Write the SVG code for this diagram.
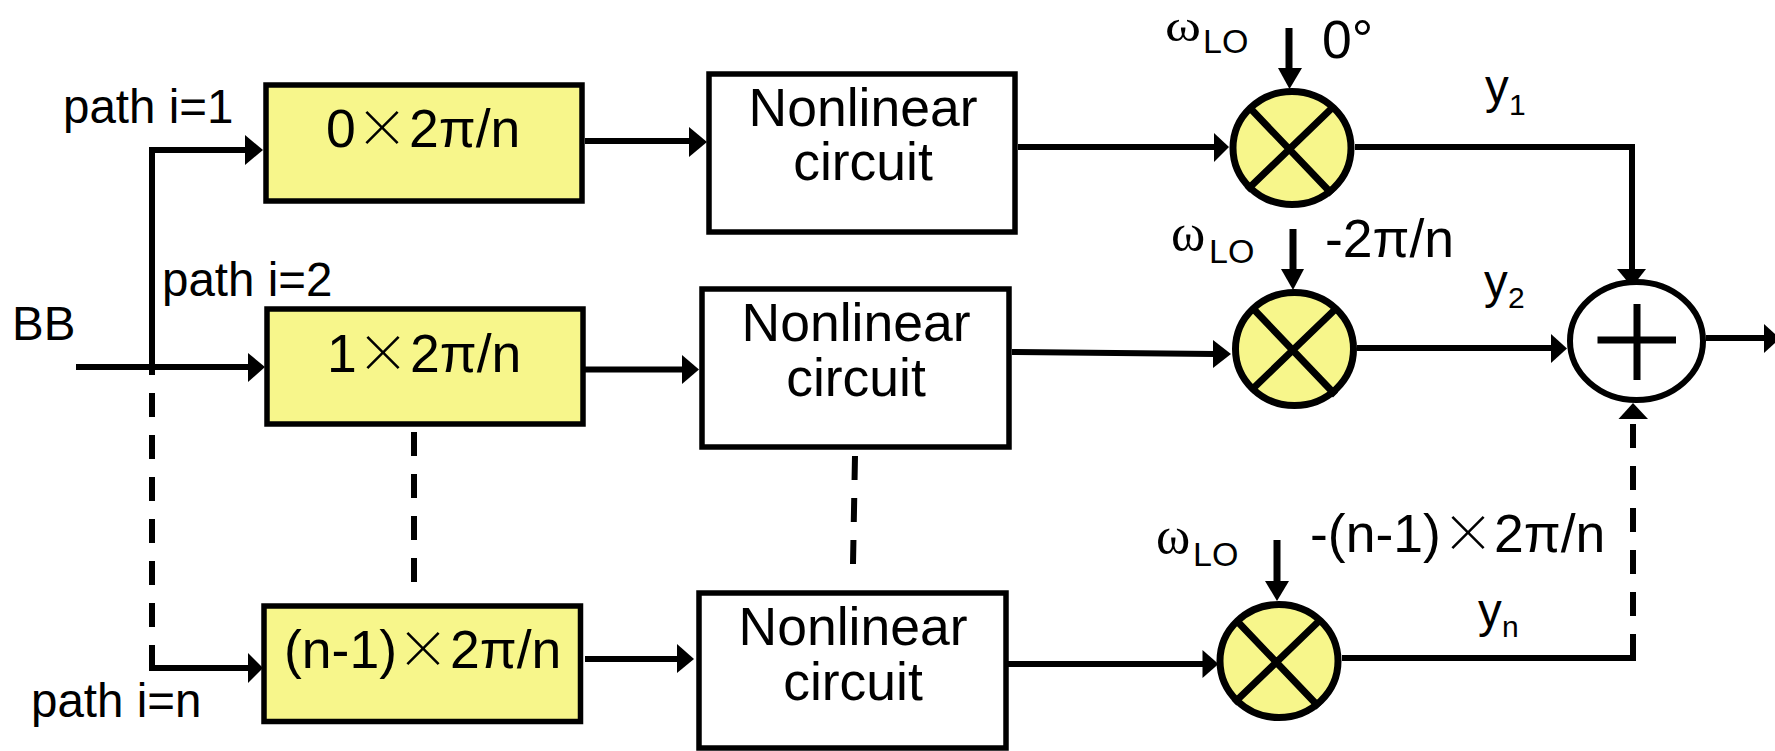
<svg xmlns="http://www.w3.org/2000/svg" width="1775" height="751" viewBox="0 0 1775 751">
<style>
text{font-family:"Liberation Sans",Arial,sans-serif;fill:#000;font-size:53.500px}
.c{text-anchor:middle}
.lb{font-size:47.500px}
.sub{font-size:34px}
.sy{font-size:30px}
.om{font-family:"Liberation Serif","Times New Roman",serif;font-size:52px}
.t{font-family:"Noto Sans CJK SC",sans-serif;font-size:52px;font-weight:300}
.box{fill:#fff;stroke:#000;stroke-width:5.500}
.y{fill:#f7f68b}
.m{fill:#f7f68b;stroke:#000;stroke-width:7}
.x{stroke:#000;stroke-width:7;fill:none}
.ln{stroke:#000;stroke-width:6;fill:none}
.th{stroke-width:7}
.d{stroke-dasharray:24 18}
.ar{fill:#000}
</style>
<g id="connectors">
<path class="ln" d="M76 367H250"/><polygon class="ar" points="265,367 248,353 248,382"/>
<path class="ln" d="M152 375V150H247"/><polygon class="ar" points="263,150 245,135 245,165"/>
<path class="ln d" d="M152 393V668"/><path class="ln" d="M152 645V668H250"/><polygon class="ar" points="263,668 248,653 248,683"/>
<path class="ln" d="M585 141H690"/><polygon class="ar" points="707,142 689,127 689,157"/>
<path class="ln" d="M585 369.500H684"/><polygon class="ar" points="699,369.500 682,355 682,384"/>
<path class="ln" d="M585 659H679"/><polygon class="ar" points="694,659 677,644 677,673"/>
<path class="ln" d="M1018 147H1216"/><polygon class="ar" points="1229,147 1214,133 1214,162"/>
<path class="ln" d="M1012 352L1215 354"/><polygon class="ar" points="1231,354 1213,340 1213,368"/>
<path class="ln" d="M1008 664H1204"/><polygon class="ar" points="1218.500,664 1202.500,650 1202.500,678"/>
<path class="ln th" d="M1289 28V70"/><polygon class="ar" points="1289.500,89 1278,68 1302,68"/>
<path class="ln th" d="M1293 229V271"/><polygon class="ar" points="1293,290 1281,269 1304,269"/>
<path class="ln th" d="M1277 540V583"/><polygon class="ar" points="1277,601 1265,581 1289,581"/>
<path class="ln" d="M1355 147H1632V271"/><polygon class="ar" points="1632,287 1617,269 1646,269"/>
<path class="ln" d="M1357 348H1553"/><polygon class="ar" points="1567,348.500 1551,334 1551,363"/>
<path class="ln" d="M1342 658H1636"/>
<path class="ln d" d="M1633 658V424"/><polygon class="ar" points="1633,403 1618.500,419 1648,419"/>
<path class="ln" d="M1706 338H1766"/><polygon class="ar" points="1780,338.500 1764,324 1764,353"/>
<path class="ln d" d="M414 432V583"/>
<path class="ln d" d="M855 456L853 564"/>
</g>
<g id="p1"><rect class="box y" x="266" y="85" width="316" height="116"/><text x="326" y="147">0</text><text class="t" x="356" y="147">×</text><text x="409" y="147">2π/n</text></g>
<g id="p2"><rect class="box y" x="267" y="309" width="316" height="115"/><text x="327" y="372">1</text><text class="t" x="357" y="372">×</text><text x="410" y="372">2π/n</text></g>
<g id="pn"><rect class="box y" x="264" y="606" width="316.500" height="115.500"/><text x="284" y="668">(n-1)</text><text class="t" x="397" y="668">×</text><text x="450" y="668">2π/n</text></g>
<g id="nl1"><rect class="box" x="709" y="74" width="306" height="158"/><text class="c" x="863" y="126">Nonlinear</text><text class="c" x="863" y="180">circuit</text></g>
<g id="nl2"><rect class="box" x="702" y="289" width="307" height="158"/><text class="c" x="856" y="341">Nonlinear</text><text class="c" x="856" y="396">circuit</text></g>
<g id="nl3"><rect class="box" x="699" y="593" width="307" height="155"/><text class="c" x="853" y="645">Nonlinear</text><text class="c" x="853" y="700">circuit</text></g>
<g id="m1"><ellipse class="m" cx="1292" cy="148" rx="59" ry="56.500"/><path class="x" d="M1250 108L1332 194M1332 108L1247 190"/></g>
<g id="m2"><ellipse class="m" cx="1294.500" cy="349" rx="59" ry="56.500"/><path class="x" d="M1253.500 309L1335.500 395M1335.500 309L1250.500 391"/></g>
<g id="mn"><ellipse class="m" cx="1279" cy="661" rx="59" ry="56.500"/><path class="x" d="M1237 621L1319 707M1319 621L1234 703"/></g>
<g id="sum"><ellipse cx="1636.500" cy="341" rx="66.500" ry="59" fill="#fff" stroke="#000" stroke-width="6"/><path class="x" d="M1597.500 340H1676M1637 304V380"/></g>
<g id="labels">
<text class="lb" x="63" y="123">path i=1</text>
<text class="lb" x="162" y="296">path i=2</text>
<text class="lb" x="31" y="717">path i=n</text>
<text class="lb" x="12" y="340">BB</text>
<text class="om" style="font-size:45px" x="1165" y="41" textLength="36" lengthAdjust="spacingAndGlyphs">ω</text><text class="sub" x="1203" y="53">LO</text>
<text class="om" x="1171" y="250">ω</text><text class="sub" x="1209" y="263">LO</text>
<text class="om" x="1156" y="553">ω</text><text class="sub" x="1193" y="566">LO</text>
<text x="1322" y="58">0°</text>
<text x="1325" y="257">-2π/n</text>
<text x="1310" y="552">-(n-1)</text><text class="t" x="1442" y="552">×</text><text x="1494" y="552">2π/n</text>
<text class="lb" x="1485" y="103">y</text><text class="sy" x="1509" y="115">1</text>
<text class="lb" x="1484" y="298">y</text><text class="sy" x="1508" y="308">2</text>
<text class="lb" x="1478" y="627">y</text><text class="sy" x="1502" y="637">n</text>
</g>
</svg>
